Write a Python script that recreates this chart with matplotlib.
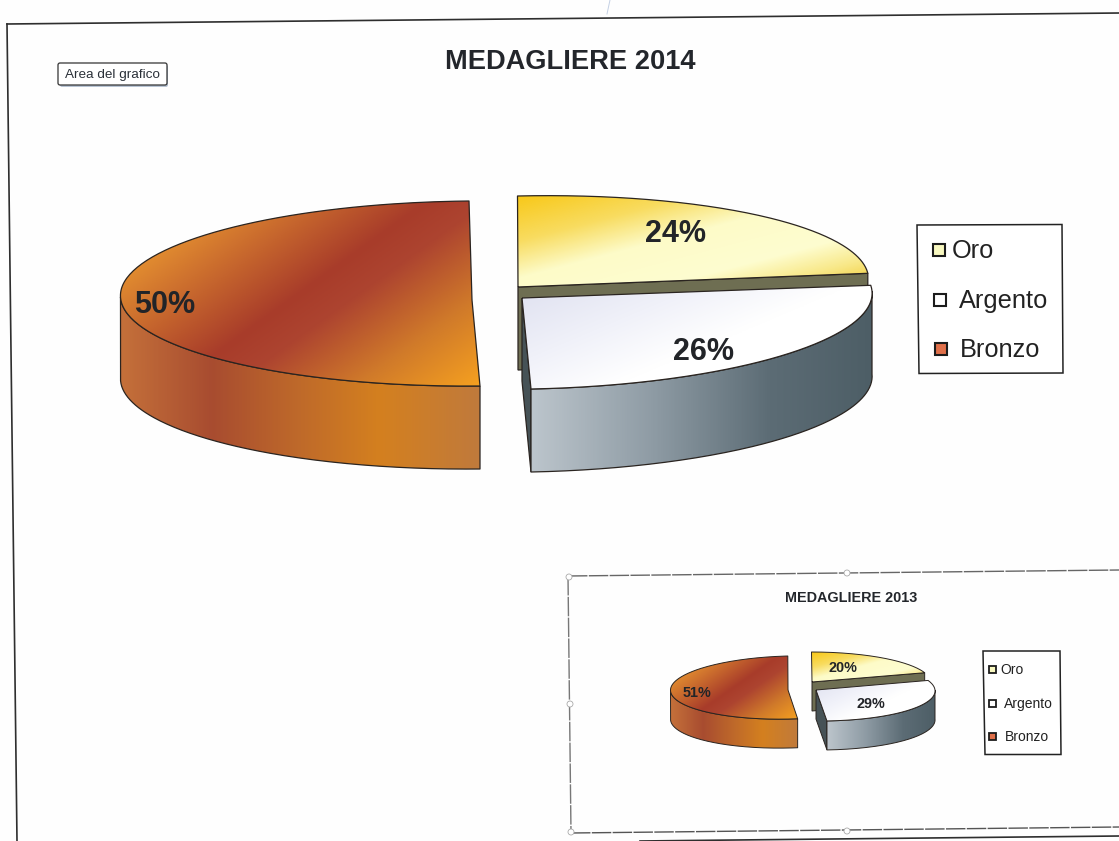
import numpy as np
import matplotlib
matplotlib.use("Agg")
import matplotlib.pyplot as plt
from matplotlib.path import Path
from matplotlib.patches import PathPatch, Rectangle, FancyBboxPatch, Circle
from matplotlib.colors import LinearSegmentedColormap

plt.rcParams['font.family'] = ['Liberation Sans', 'DejaVu Sans']

# ---- data ----
categories = ["Oro", "Argento", "Bronzo"]
values_2014 = [24, 26, 50]
values_2013 = [20, 29, 51]
title_2014 = "MEDAGLIERE 2014"
title_2013 = "MEDAGLIERE 2013"
tooltip = "Area del grafico"

# ---- layout (pixel space of the scanned page) ----
W, H = 1119, 841
main_geom = {
    "Oro":     dict(apex=(518, 287), c=(517.5, 287), rx=351, ry=91, sx=0, tilt=8),
    "Argento": dict(apex=(522, 298), c=(522, 298), rx=350, ry=91, sx=9, tilt=7),
    "Bronzo":  dict(apex=(472, 300), c=(474.5, 293.5), rx=354, ry=92.5, sx=5.5, tilt=3.5),
}
inset_geom = {
    "Oro":     dict(apex=(812, 682), c=(811.5, 682), rx=119, ry=30, sx=0, tilt=0),
    "Argento": dict(apex=(816, 690), c=(816, 690), rx=119, ry=31, sx=3.5, tilt=0),
    "Bronzo":  dict(apex=(788, 690), c=(789, 687.5), rx=118.5, ry=31.5, sx=1.2, tilt=3),
}
main_labels = {"Oro": (675, 234), "Argento": (704, 352), "Bronzo": (165, 305)}
inset_labels = {"Oro": (843, 668), "Argento": (871, 704), "Bronzo": (697, 693)}

top_style = {
    "Oro": (1, 1, [(0, "#f8c818"), (.25, "#f8dc60"), (.45, "#fdfbc8"), (.7, "#fefdd0"), (.85, "#f8e888"), (1, "#f0c830")]),
    "Argento": (1, .7, [(0, "#dfe1f0"), (.3, "#f0f1f9"), (.55, "#ffffff"), (1, "#ffffff")]),
    "Bronzo": (.81, .58, [(0, "#e89a38"), (.18, "#e08a30"), (.5, "#a83c2a"), (.6, "#ad4430"), (.8, "#d07a2a"), (1, "#f5a020")]),
}
wall_style = {
    "Argento": (1, 0, [(0, "#bcc5cc"), (.35, "#8f9ca5"), (.7, "#5c6c75"), (1, "#4d5e66")]),
    "Bronzo": (1, 0, [(0, "#c4703a"), (.25, "#a84c30"), (.5, "#bf6a2a"), (.72, "#d4801f"), (1, "#c07a3c")]),
}
face_colors = {"Oro": "#6e6e52", "Argento": "#465256"}
legend_fill = {"Oro": "#f8f8c0", "Argento": "#ffffff", "Bronzo": "#e0704a"}

fig = plt.figure(figsize=(W / 100, H / 100), dpi=100, facecolor="#fefefe")
ax = fig.add_axes([0, 0, 1, 1])
ax.axis("off")
z = [2]


def nextz():
    z[0] += 1
    return z[0]


def arc(g, t0, t1, dy=0, n=160):
    t = np.radians(np.linspace(t0, t1, n))
    x = g["c"][0] + g["rx"] * np.sin(t) - g["sx"] * np.cos(t)
    y = g["c"][1] - g["ry"] * np.cos(t) - g["tilt"] * np.sin(t) + dy
    return np.column_stack([x, y])


def shade(pts, style, lw):
    pts = np.asarray(pts)
    x0, y0 = pts.min(axis=0)
    x1, y1 = pts.max(axis=0)
    a, b, stops = style
    xn, yn = np.meshgrid(np.linspace(0, 1, 200), np.linspace(0, 1, 200))
    u = (a * xn + b * yn) / (a + b)
    cmap = LinearSegmentedColormap.from_list("g", stops)
    zz = nextz()
    patch = PathPatch(Path(np.vstack([pts, pts[:1]])), facecolor="none", edgecolor="#2a2420",
                      lw=lw, zorder=zz + 1, joinstyle="round")
    ax.add_patch(patch)
    im = ax.imshow(u, cmap=cmap, vmin=0, vmax=1, extent=(x0, x1, y1, y0), origin="upper",
                   aspect="auto", interpolation="bilinear", zorder=zz)
    im.set_clip_path(patch)
    nextz()


def draw_pie(values, geom, depth, lw):
    total = sum(values)
    ends = np.cumsum(values) / total * 360
    spans = {c: (e - v / total * 360, e) for c, v, e in zip(categories, values, ends)}

    # Bronzo: wall (visible up to the left extreme), then top
    g = geom["Bronzo"]
    t0, t1 = spans["Bronzo"]
    top = arc(g, max(t0, 90), 270)
    shade(np.vstack([top, arc(g, max(t0, 90), 270, depth)[::-1]]), wall_style["Bronzo"], lw)
    shade(np.vstack([[g["apex"]], arc(g, t0, t1)]), top_style["Bronzo"], lw)

    # Oro: end cut face, then top
    g = geom["Oro"]
    t0, t1 = spans["Oro"]
    end = arc(g, t1, t1, n=1)[0]
    ap = np.array(g["apex"], float)
    d = np.array([0, depth])
    ax.add_patch(plt.Polygon([ap, end, end + d, ap + d], closed=True, fc=face_colors["Oro"],
                             ec="#2a2420", lw=lw, zorder=nextz()))
    shade(np.vstack([[g["apex"]], arc(g, t0, t1)]), top_style["Oro"], lw)

    # Argento: end cut face, wall, top
    g = geom["Argento"]
    t0, t1 = spans["Argento"]
    end = arc(g, t1, t1, n=1)[0]
    ap = np.array(g["apex"], float)
    ax.add_patch(plt.Polygon([ap, end, end + d, ap + d], closed=True, fc=face_colors["Argento"],
                             ec="#2a2420", lw=lw, zorder=nextz()))
    w0 = max(t0, 90)
    shade(np.vstack([arc(g, w0, t1), arc(g, w0, t1, depth)[::-1]]), wall_style["Argento"], lw)
    shade(np.vstack([[g["apex"]], arc(g, t0, t1)]), top_style["Argento"], lw)


def pct_labels(values, pos, size):
    total = sum(values)
    for c, v in zip(categories, values):
        ax.text(*pos[c], f"{round(v / total * 100)}%", fontsize=size, fontweight="bold",
                color="#222428", ha="center", va="center", zorder=200)


def legend(box, entries, mk, mlw, size):
    (x0, y0), (x1, y1), tilt = box
    ax.add_patch(plt.Polygon([(x0, y0 + tilt), (x1, y0), (x1 + 1, y1), (x0 + 2, y1 + tilt)], closed=True,
                             fc="white", ec="#222222", lw=1.1, zorder=100))
    for c, (mx, my, tx) in zip(categories, entries):
        ax.add_patch(Rectangle((mx - mk / 2, my - mk / 2), mk, mk, fc=legend_fill[c], ec="#1c1c1c",
                               lw=mlw, zorder=101))
        ax.text(tx, my + 1, c, fontsize=size, color="#222222", ha="left", va="center", zorder=101)


# page frame
ax.plot([7, 1119], [24, 13], color="#2e2e2e", lw=1.2, zorder=1)
ax.plot([7, 17], [24, 841], color="#2e2e2e", lw=1.2, zorder=1)
ax.plot([610, 607], [0, 14], color="#c4d0e4", lw=0.7, zorder=1)
ax.plot([640, 1119], [841, 836], color="#2e2e2e", lw=1.2, zorder=1)

# tooltip
ax.add_patch(FancyBboxPatch((60, 65), 108, 22, boxstyle="round,pad=0,rounding_size=2", fc="#b8c4d4",
                            ec="none", zorder=3))
ax.add_patch(FancyBboxPatch((58, 63), 109, 22, boxstyle="round,pad=0,rounding_size=2", fc="white",
                            ec="#333333", lw=0.9, zorder=4))
ax.text(112.5, 75, tooltip, fontsize=9.7, color="#2a3038", ha="center", va="center", zorder=5)

# main chart
ax.text(570, 62, title_2014, fontsize=19.6, fontweight="bold", color="#23262b", ha="center", va="center")
draw_pie(values_2014, main_geom, 83, 0.9)
pct_labels(values_2014, main_labels, 22)
legend(((917, 224.5), (1062, 373), 0.5),
       [(939, 250, 952), (940, 300, 959), (941, 349, 960)], 12, 1.5, 18.3)

# inset frame
dash = (0, (14, 1))
ax.plot([568, 1119], [576, 570], color="#666666", lw=1.0, ls=dash, zorder=50)
ax.plot([568, 571], [576, 833], color="#777777", lw=1.0, ls=dash, zorder=50)
ax.plot([571, 1119], [833, 827], color="#555555", lw=1.0, ls=dash, zorder=50)
for hx, hy in [(847, 573), (570, 704), (847, 831), (569, 577), (571, 832)]:
    ax.add_patch(Circle((hx, hy), 3, fc="white", ec="#aaaaaa", lw=0.6, zorder=51))

ax.text(851, 598, title_2013, fontsize=10.4, fontweight="bold", color="#23262b", ha="center", va="center")
draw_pie(values_2013, inset_geom, 29, 0.7)
pct_labels(values_2013, inset_labels, 10.4)
legend(((983, 651), (1060, 754.5), 0),
       [(992, 669, 1000), (992, 703, 1004), (992, 736, 1005)], 7, 1.3, 10)

ax.set_xlim(0, W)
ax.set_ylim(H, 0)
fig.savefig("out.png", dpi=100, facecolor=fig.get_facecolor())
